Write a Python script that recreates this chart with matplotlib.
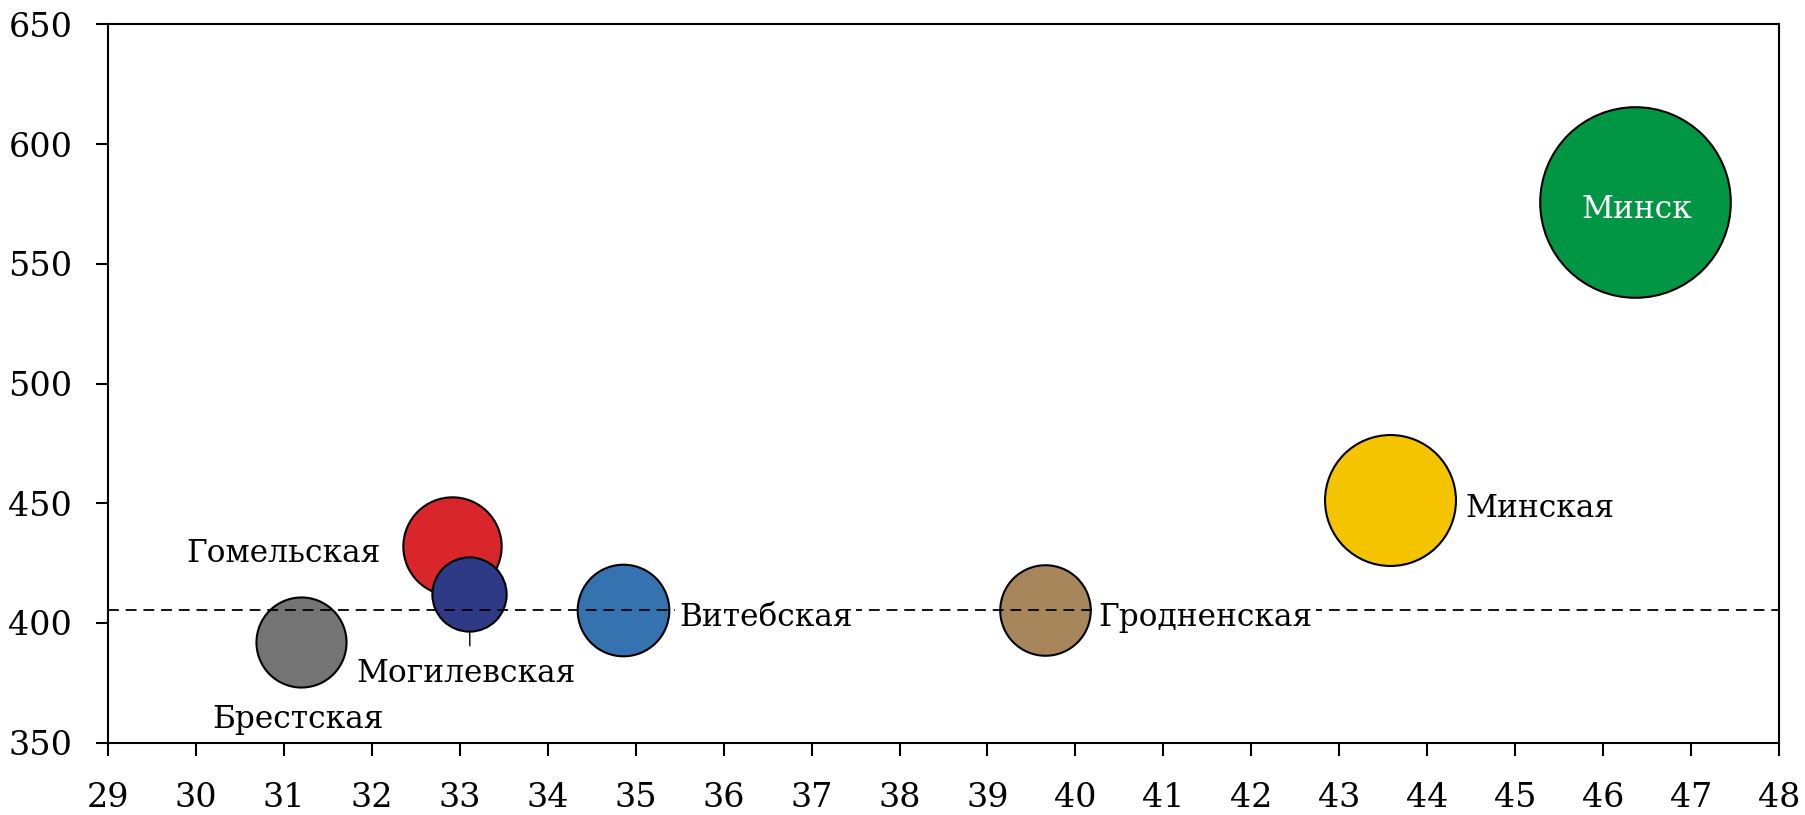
import matplotlib
matplotlib.use("Agg")
import matplotlib.pyplot as plt

# Regional indicators: x value, y value and bubble size for each region
regions = ["Брестская", "Витебская", "Гомельская", "Гродненская",
           "Минск", "Минская", "Могилевская"]
x_values = [31.20, 34.86, 32.91, 39.65, 46.36, 43.57, 33.11]
y_values = [391.9, 405.3, 432.2, 405.3, 575.8, 451.3, 411.9]
bubble_values = [20.3, 21.0, 24.2, 20.5, 90.9, 42.9, 13.8]
average_level = 405.6

x_ticks = list(range(29, 49))
y_ticks = list(range(350, 651, 50))

colors = ["#747474", "#3572B0", "#D9262A", "#A6865A",
          "#009644", "#F5C400", "#2E3A85"]

# Label placement: (dx, dy) in points from the bubble centre, alignment, text colour
label_style = {
    "Брестская":   ((-2.0, -61.7), "center", "black"),
    "Витебская":   ((40.2, -11.4), "left", "black"),
    "Гомельская":  ((-51.5, -11.4), "right", "black"),
    "Гродненская": ((38.7, -11.4), "left", "black"),
    "Минск":       ((1.6, -11.2), "center", "white"),
    "Минская":     ((54.9, -11.8), "left", "black"),
    "Могилевская": ((-2.0, -63.2), "center", "black"),
}

font = "DejaVu Serif"
label_fs = 22.5
tick_fs = 24

fig = plt.figure(figsize=(18.05, 8.15), dpi=100)
ax = fig.add_axes([0.05967, 0.08871, 0.92609, 0.88147])

max_radius_pt = 95.3 * 0.72
max_bubble = max(bubble_values)
sizes = [(2 * max_radius_pt) ** 2 * v / max_bubble for v in bubble_values]

# Bubbles in list order, so the Mogilev bubble sits on top of the Gomel one
for i in range(len(regions)):
    ax.scatter(x_values[i], y_values[i], s=sizes[i], color=colors[i],
               edgecolors="black", linewidths=1.5, zorder=2 + i * 0.01)

ax.axhline(average_level, color="black", lw=1.3,
           linestyle=(0, (6.0, 3.8)), zorder=3)

for i, name in enumerate(regions):
    (dx, dy), ha, tc = label_style[name]
    ax.annotate(name, xy=(x_values[i], y_values[i]), xytext=(dx, dy),
                textcoords="offset points", ha=ha, va="baseline",
                fontsize=label_fs, family=font, color=tc, zorder=5,
                bbox=None if tc == "white" else dict(boxstyle="square,pad=0.12",
                                                     fc="white", ec="none"))

# Leader line from the Mogilev bubble to its label
mog = regions.index("Могилевская")
mog_r = (sizes[mog] ** 0.5) / 2
ax.annotate("", xy=(x_values[mog], y_values[mog]), xytext=(0.4, -37.0),
            textcoords="offset points",
            arrowprops=dict(arrowstyle="-", lw=1.0, color="black",
                            shrinkA=0, shrinkB=mog_r), zorder=4)

ax.set_xlim(29, 48)
ax.set_ylim(350, 650)
ax.set_xticks(x_ticks)
ax.set_yticks(y_ticks)
ax.set_xticklabels([str(t) for t in x_ticks], family=font, fontsize=tick_fs)
ax.set_yticklabels([str(t) for t in y_ticks], family=font, fontsize=tick_fs)
ax.tick_params(axis="both", direction="out", length=9, width=1.5, color="black")
ax.tick_params(axis="x", pad=19)
ax.tick_params(axis="y", pad=16.5)
for sp in ax.spines.values():
    sp.set_linewidth(1.5)
    sp.set_color("black")

fig.savefig("out.png", dpi=100)
